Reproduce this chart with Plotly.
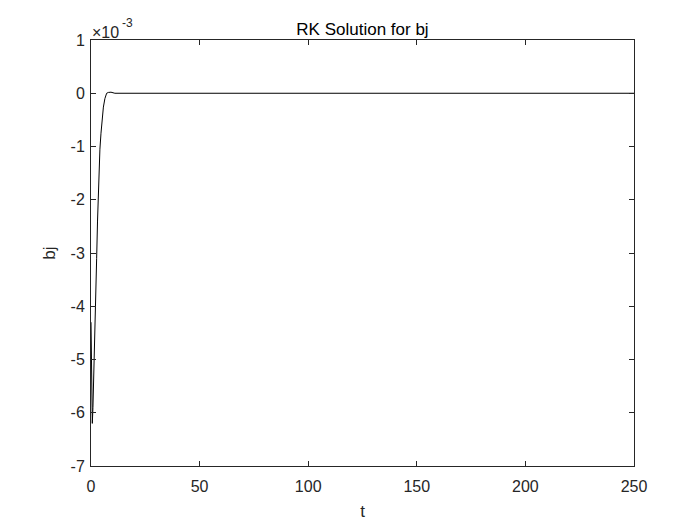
import plotly.graph_objects as go

# time samples and solution (bj in units of 1e-3)
t_vals = [0, 0.2, 0.4, 0.6, 0.9, 1.2, 1.5, 1.8, 2.2, 2.6, 3.0, 3.4, 3.8, 4.1, 4.6, 5.1,
          5.7, 6.4, 7.2, 8.0, 9.2, 11, 14, 20, 50, 100, 150, 200, 250]
bj_milli = [-4.3, -5.2, -5.9, -6.2, -5.9, -5.3, -4.6, -4.1, -3.7, -3.1, -2.4, -1.8, -1.3,
            -1.05, -0.75, -0.45, -0.26, -0.1, 0.0, 0.015, 0.02, 0.0, 0.0, 0.0, 0.0, 0.0,
            0.0, 0.0, 0.0]

x_ticks = [0, 50, 100, 150, 200, 250]
y_ticks = [-7, -6, -5, -4, -3, -2, -1, 0, 1]

font = "Liberation Sans, Arial, sans-serif"
W, H = 692, 517
L, R, T, B = 83, 66, 32, 59

fig = go.Figure()
fig.add_trace(go.Scatter(x=t_vals, y=bj_milli, mode="lines",
                         line=dict(color="black", width=1), showlegend=False))

axis_common = dict(showline=True, linecolor="#262626", linewidth=1, mirror="allticks",
                   ticks="inside", ticklen=5, tickcolor="#262626", showgrid=False,
                   zeroline=False, automargin=False,
                   tickfont=dict(family=font, size=16, color="#262626"))

fig.update_xaxes(range=[0, 250], tickvals=x_ticks, ticktext=[str(v) for v in x_ticks],
                 ticklabelstandoff=6,
                 title=dict(text="t", font=dict(family=font, size=17, color="#262626"),
                            standoff=10),
                 **axis_common)
fig.update_yaxes(range=[-7, 1], tickvals=y_ticks, ticktext=[str(v) for v in y_ticks],
                 ticklabelstandoff=2,
                 title=dict(text="bj", font=dict(family=font, size=17, color="#262626"),
                            standoff=10),
                 **axis_common)

fig.update_layout(
    width=W, height=H,
    margin=dict(l=L, r=R, t=T, b=B),
    paper_bgcolor="white", plot_bgcolor="white",
    title=dict(text="RK Solution for bj", x=(L + (W - R)) / 2 / W, xanchor="center",
               y=1 - 21 / H, yanchor="middle",
               font=dict(family=font, size=17, color="black")),
    annotations=[
        dict(text="×10", xref="paper", yref="paper", x=0, y=1,
             xshift=-1, yshift=-3, xanchor="left", yanchor="bottom", showarrow=False,
             font=dict(family=font, size=16, color="#262626")),
        dict(text="-3", xref="paper", yref="paper", x=0, y=1,
             xshift=29, yshift=8, xanchor="left", yanchor="bottom", showarrow=False,
             font=dict(family=font, size=12, color="#262626")),
    ],
)

fig.write_html("out.html")
